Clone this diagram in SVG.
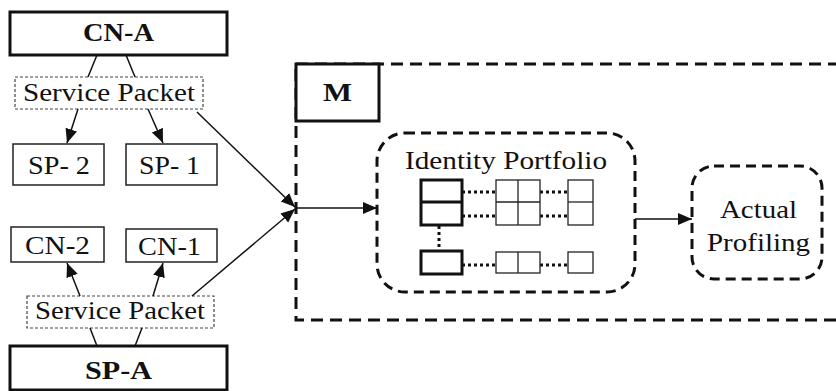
<svg xmlns="http://www.w3.org/2000/svg" width="836" height="391" viewBox="0 0 836 391" font-family="'Liberation Serif', 'Times New Roman', serif" font-size="25">
<defs>
<style>
text{fill:#111;}
.b{font-weight:bold;}
.thick{fill:#fff;stroke:#111;stroke-width:3;}
.thin{fill:#fff;stroke:#222;stroke-width:1.5;}
.pkt{fill:#fff;stroke:#444;stroke-width:1.2;stroke-dasharray:3 2;}
.dash{fill:none;stroke:#111;stroke-width:3;stroke-dasharray:12 7;}
.dash2{fill:none;stroke:#111;stroke-width:3;stroke-dasharray:10 6;}
.ln{fill:none;stroke:#111;stroke-width:1.5;}
.dot{fill:none;stroke:#111;stroke-width:3;stroke-dasharray:3 3;}
.cell{fill:#fff;stroke:#222;stroke-width:1.3;}
.tcell{fill:#fff;stroke:#111;stroke-width:3;}
</style>
<marker id="ah" markerUnits="userSpaceOnUse" markerWidth="16" markerHeight="14" refX="14" refY="6" orient="auto">
<path d="M0,0 L14,6 L0,12 Z" fill="#111"/>
</marker>
</defs>

<g id="M-container">
<rect class="dash" x="296" y="64" width="560" height="256"/>
<rect class="thick" x="296" y="64" width="83" height="57"/>
<text class="b" x="323" y="101" textLength="29" lengthAdjust="spacingAndGlyphs">M</text>
</g>

<g id="CN-A">
<rect class="thick" x="10" y="12" width="217" height="43"/>
<text class="b" x="83" y="41" textLength="71" lengthAdjust="spacingAndGlyphs">CN-A</text>
</g>

<g id="packet-top">
<rect class="pkt" x="15" y="77" width="188" height="32"/>
<text x="23" y="101" textLength="172" lengthAdjust="spacingAndGlyphs">Service Packet</text>
</g>

<g id="SP-2">
<rect class="thin" x="13" y="144" width="91" height="41"/>
<text x="28" y="174" textLength="62" lengthAdjust="spacingAndGlyphs">SP- 2</text>
</g>
<g id="SP-1">
<rect class="thin" x="126" y="144" width="91" height="41"/>
<text x="139" y="174" textLength="61" lengthAdjust="spacingAndGlyphs">SP- 1</text>
</g>

<g id="CN-2">
<rect class="thin" x="11" y="227" width="93" height="35"/>
<text x="25" y="254" textLength="65" lengthAdjust="spacingAndGlyphs">CN-2</text>
</g>
<g id="CN-1">
<rect class="thin" x="126" y="229" width="91" height="33"/>
<text x="138" y="255" textLength="63" lengthAdjust="spacingAndGlyphs">CN-1</text>
</g>

<g id="packet-bottom">
<rect class="pkt" x="27" y="296" width="187" height="32"/>
<text x="35" y="319" textLength="170" lengthAdjust="spacingAndGlyphs">Service Packet</text>
</g>

<g id="SP-A">
<rect class="thick" x="10" y="346" width="217" height="44"/>
<text class="b" x="85" y="379" textLength="67" lengthAdjust="spacingAndGlyphs">SP-A</text>
</g>

<g id="identity-portfolio">
<rect class="dash2" x="377" y="133" width="258" height="159" rx="28" ry="28"/>
<text x="405" y="169" textLength="202" lengthAdjust="spacingAndGlyphs">Identity Portfolio</text>
<line class="dot" x1="462" y1="192" x2="496" y2="192"/>
<line class="dot" x1="462" y1="216" x2="496" y2="216"/>
<line class="dot" x1="540" y1="192" x2="568" y2="192"/>
<line class="dot" x1="540" y1="216" x2="568" y2="216"/>
<line class="dot" x1="462" y1="265" x2="496" y2="265"/>
<line class="dot" x1="540" y1="265" x2="568" y2="265"/>
<line class="dot" x1="439" y1="226" x2="439" y2="251"/>
<rect class="tcell" x="421" y="180" width="41" height="45"/>
<line stroke="#111" stroke-width="3" x1="421" y1="202" x2="462" y2="202"/>
<rect class="tcell" x="421" y="251" width="41" height="23"/>
<rect class="cell" x="496" y="180" width="44" height="45"/>
<line stroke="#222" stroke-width="1.3" x1="518" y1="180" x2="518" y2="225"/>
<line stroke="#222" stroke-width="1.3" x1="496" y1="202" x2="540" y2="202"/>
<rect class="cell" x="568" y="180" width="25" height="45"/>
<line stroke="#222" stroke-width="1.3" x1="568" y1="202" x2="593" y2="202"/>
<rect class="cell" x="496" y="252" width="44" height="21"/>
<line stroke="#222" stroke-width="1.3" x1="518" y1="252" x2="518" y2="273"/>
<rect class="cell" x="568" y="252" width="25" height="21"/>
</g>

<g id="actual-profiling">
<rect class="dash2" x="692" y="166" width="130" height="113" rx="22" ry="22"/>
<text x="720" y="218" textLength="77" lengthAdjust="spacingAndGlyphs">Actual</text>
<text x="707" y="251" textLength="103" lengthAdjust="spacingAndGlyphs">Profiling</text>
</g>

<g id="connectors">
<line class="ln" x1="97" y1="55" x2="88" y2="77"/>
<line class="ln" x1="126" y1="55" x2="135" y2="77"/>
<line class="ln" x1="78" y1="109" x2="67" y2="143" marker-end="url(#ah)"/>
<line class="ln" x1="148" y1="109" x2="163" y2="143" marker-end="url(#ah)"/>
<line class="ln" x1="197" y1="112" x2="295" y2="207" marker-end="url(#ah)"/>
<line class="ln" x1="80" y1="296" x2="67" y2="263" marker-end="url(#ah)"/>
<line class="ln" x1="153" y1="296" x2="163" y2="263" marker-end="url(#ah)"/>
<line class="ln" x1="192" y1="296" x2="295" y2="209" marker-end="url(#ah)"/>
<line class="ln" x1="90" y1="328" x2="97" y2="346"/>
<line class="ln" x1="142" y1="328" x2="135" y2="346"/>
<line class="ln" x1="296" y1="208" x2="377" y2="208" marker-end="url(#ah)"/>
<line class="ln" x1="635" y1="219" x2="692" y2="219" marker-end="url(#ah)"/>
</g>
</svg>
